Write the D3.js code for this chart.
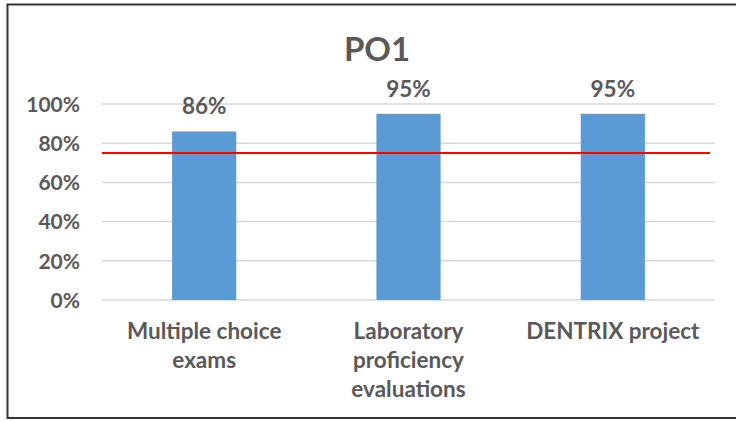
<!DOCTYPE html>
<html>
<head>
<meta charset="utf-8">
<script src="https://cdn.jsdelivr.net/npm/d3@7"></script>
<style>
  html, body { margin: 0; padding: 0; background: #fff; }
  svg { display: block; }
  text { font-family: Lato, "Open Sans", sans-serif; font-weight: bold; fill: #595959; }
</style>
</head>
<body>
<svg id="chart" width="736" height="421"></svg>
<script>
const categories = [["Multiple choice", "exams"], ["Laboratory", "proficiency", "evaluations"], ["DENTRIX project"]];
const values = [86, 95, 95];
const yTicks = [0, 20, 40, 60, 80, 100];
const target = 75;
const title = "PO1";

const svg = d3.select("#chart");

// outer frame
svg.append("rect").attr("x", 7.5).attr("y", 4.5).attr("width", 740).attr("height", 413.5)
  .attr("fill", "none").attr("stroke", "#333").attr("stroke-width", 2);

const plot = { left: 102, right: 715, top: 104, bottom: 300 };

const x = d3.scaleBand().domain(d3.range(categories.length)).range([plot.left, plot.right]).paddingInner(0).paddingOuter(0);
const y = d3.scaleLinear().domain([0, 100]).range([plot.bottom, plot.top]);

// gridlines
svg.append("g").selectAll("line").data(yTicks).join("line")
  .attr("x1", plot.left).attr("x2", plot.right)
  .attr("y1", d => y(d)).attr("y2", d => y(d))
  .attr("stroke", "#D9D9D9").attr("stroke-width", 1.5);

// y axis labels
const yAxis = d3.axisLeft(y).tickValues(yTicks).tickFormat(d => d + "%").tickSize(0).tickPadding(0);
const ya = svg.append("g").attr("transform", `translate(80,0)`).call(yAxis);
ya.select(".domain").remove();
ya.selectAll("text").attr("font-size", 21).attr("fill", "#595959")
  .style("font-family", "Lato, sans-serif").style("font-weight", "bold").attr("dy", "0.35em");

// bars
const barW = x.bandwidth() * 0.314;
svg.append("g").selectAll("rect").data(values).join("rect")
  .attr("x", (d, i) => x(i) + x.bandwidth() / 2 - barW / 2)
  .attr("y", d => y(d))
  .attr("width", barW)
  .attr("height", d => y(0) - y(d))
  .attr("fill", "#5B9BD5");

// data labels
svg.append("g").selectAll("text").data(values).join("text")
  .attr("x", (d, i) => x(i) + x.bandwidth() / 2)
  .attr("y", d => y(d) - 17)
  .attr("text-anchor", "middle")
  .attr("font-size", 22.5)
  .text(d => d + "%");

// target line
svg.append("line")
  .attr("x1", plot.left).attr("x2", 710)
  .attr("y1", y(target)).attr("y2", y(target))
  .attr("stroke", "#FF0000").attr("stroke-width", 2);

// category labels
const cg = svg.append("g").selectAll("text").data(categories).join("text")
  .attr("text-anchor", "middle")
  .attr("font-size", 22.5);
cg.each(function(lines, i) {
  d3.select(this).selectAll("tspan").data(lines).join("tspan")
    .attr("x", x(i) + x.bandwidth() / 2)
    .attr("y", (l, j) => 339 + j * 29)
    .text(l => l);
});

// title
svg.append("text").attr("x", 377).attr("y", 61).attr("text-anchor", "middle")
  .attr("font-size", 33).text(title);
</script>
</body>
</html>
